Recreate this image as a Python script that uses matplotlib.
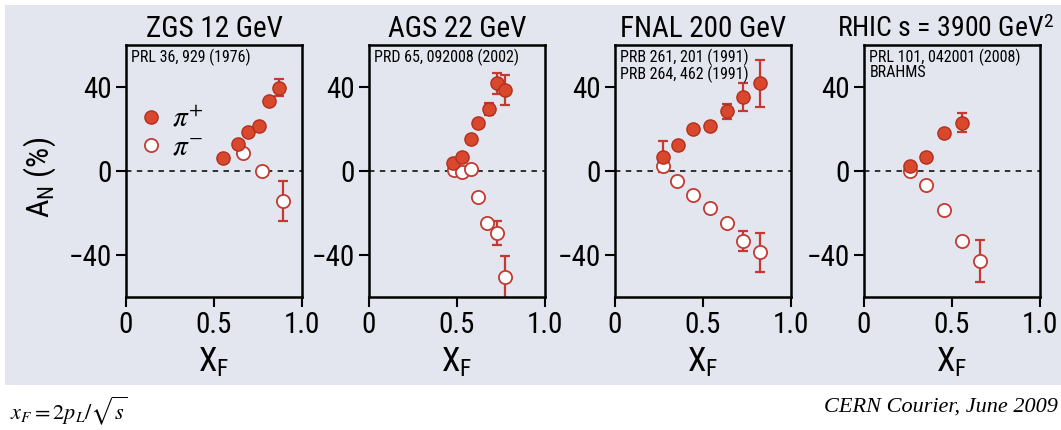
import matplotlib
matplotlib.use('Agg')
import matplotlib.pyplot as plt
import numpy as np
from matplotlib.patches import Rectangle

# condensed sans first, plain Liberation Sans if none of them is there
sans = ['Roboto Condensed', 'Archivo Narrow', 'PT Sans Narrow', 'Fira Sans Condensed',
        'Liberation Sans', 'DejaVu Sans']
plt.rcParams['font.family'] = sans
plt.rcParams['mathtext.fontset'] = 'custom'
plt.rcParams['mathtext.rm'] = 'Roboto Condensed'
plt.rcParams['mathtext.it'] = 'Liberation Serif:italic'

titles = ['ZGS 12 GeV', 'AGS 22 GeV', 'FNAL 200 GeV', r'RHIC s = 3900 GeV$^{\mathrm{2}}$']
refs = ['PRL 36, 929 (1976)', 'PRD 65, 092008 (2002)',
        'PRB 261, 201 (1991)\nPRB 264, 462 (1991)', 'PRL 101, 042001 (2008)\nBRAHMS']

# ZGS 12 GeV
zgs_pip_x = [0.55, 0.635, 0.695, 0.755, 0.815, 0.87]
zgs_pip_y = [6.4, 12.9, 18.6, 21.6, 33.3, 39.7]
zgs_pip_e = [0, 0, 0, 0, 0, 4.1]
zgs_pim_x = [0.665, 0.775, 0.89]
zgs_pim_y = [8.4, 0.0, -14.3]
zgs_pim_e = [0, 0, 9.6]

# AGS 22 GeV
ags_pip_x = [0.48, 0.53, 0.58, 0.62, 0.68, 0.725, 0.775]
ags_pip_y = [3.7, 6.8, 15.1, 23.0, 29.5, 41.8, 38.6]
ags_pip_e = [0, 0, 0, 0, 2.8, 4.9, 7.3]
ags_pim_x = [0.485, 0.53, 0.58, 0.62, 0.67, 0.725, 0.775]
ags_pim_y = [0.5, -0.6, 0.8, -12.2, -24.9, -29.4, -50.6]
ags_pim_e = [0, 0, 0, 0, 0, 5.8, 10.2]

# FNAL 200 GeV
fnal_pip_x = [0.275, 0.36, 0.445, 0.54, 0.635, 0.725, 0.825]
fnal_pip_y = [6.9, 12.2, 20.0, 21.6, 28.5, 35.1, 41.8]
fnal_pip_e = [7.4, 0, 0, 0, 3.5, 6.7, 11.2]
fnal_pim_x = [0.275, 0.355, 0.445, 0.54, 0.635, 0.73, 0.825]
fnal_pim_y = [2.2, -4.7, -11.4, -17.5, -24.7, -33.5, -38.8]
fnal_pim_e = [0, 0, 0, 0, 0, 4.8, 9.1]

# RHIC
rhic_pip_x = [0.26, 0.355, 0.455, 0.555]
rhic_pip_y = [2.6, 6.8, 18.0, 23.0]
rhic_pip_e = [0, 0, 0, 4.5]
rhic_pim_x = [0.26, 0.355, 0.455, 0.555, 0.66]
rhic_pim_y = [0.0, -6.5, -18.5, -33.4, -43.0]
rhic_pim_e = [0, 0, 0, 0, 10.0]

panels = [
    (zgs_pip_x, zgs_pip_y, zgs_pip_e, zgs_pim_x, zgs_pim_y, zgs_pim_e),
    (ags_pip_x, ags_pip_y, ags_pip_e, ags_pim_x, ags_pim_y, ags_pim_e),
    (fnal_pip_x, fnal_pip_y, fnal_pip_e, fnal_pim_x, fnal_pim_y, fnal_pim_e),
    (rhic_pip_x, rhic_pip_y, rhic_pip_e, rhic_pim_x, rhic_pim_y, rhic_pim_e),
]

W, H = 1061, 430
bg = '#e3e6ee'
red = '#d9472d'
redline = '#c43a33'

fig = plt.figure(figsize=(W / 100, H / 100), dpi=100)
fig.patches.append(Rectangle((5 / W, (H - 385) / H), 1056 / W, 380 / H,
                             transform=fig.transFigure, facecolor=bg, edgecolor='none', zorder=-10))

lefts = [126, 369, 615, 864]
title_x = [0.5, 0.5, 0.5, 0.46]
title_size = [21, 21, 21, 20]


def draw_err(ax, x, y, e):
    x, y, e = np.array(x), np.array(y), np.array(e)
    m = e > 0
    if m.any():
        ax.errorbar(x[m], y[m], yerr=e[m], fmt='none', ecolor=redline,
                    elinewidth=1.6, capsize=3.5, capthick=1.6, zorder=2)


for i, (px, py, pe, mx, my, me) in enumerate(panels):
    ax = fig.add_axes([lefts[i] / W, 133 / H, 176 / W, 252 / H])
    ax.set_facecolor(bg)
    ax.set_xlim(0, 1.0)
    ax.set_ylim(-60, 60)
    ax.axhline(0, color='#222222', ls=(0, (3, 3)), lw=1.3, zorder=1)

    draw_err(ax, px, py, pe)
    draw_err(ax, mx, my, me)
    hp, = ax.plot(px, py, 'o', ms=9.5, mfc=red, mec='#b03020', mew=1.0, ls='none', zorder=4)
    hm, = ax.plot(mx, my, 'o', ms=9.5, mfc='white', mec=redline, mew=1.3, ls='none', zorder=3)

    ax.set_xticks([0, 0.5, 1.0])
    ax.set_xticklabels(['0', '0.5', '1.0'])
    ax.set_yticks([-40, 0, 40])
    ax.set_yticklabels(['\u221240', '0', '40'])
    ax.tick_params(direction='out', length=7, width=1.5, labelsize=21, pad=3)
    for s in ax.spines.values():
        s.set_linewidth(1.8)
    ax.set_xlabel(r'$\mathrm{X_F}$', fontsize=24, labelpad=5)
    ax.set_title(titles[i], fontsize=title_size[i], pad=6, x=title_x[i])
    ax.text(0.03, 0.985, refs[i], transform=ax.transAxes, va='top', ha='left',
            fontsize=11.5, linespacing=0.95)

    if i == 0:
        ax.legend([hp, hm], [r'$\pi^{+}$', r'$\pi^{-}$'], loc='center left',
                  bbox_to_anchor=(0.057, 0.65), frameon=False,
                  handlelength=1.0, handletextpad=0.25, labelspacing=0.0,
                  borderpad=0, borderaxespad=0,
                  prop={'size': 21, 'math_fontfamily': 'stix'})

fig.text(40 / W, (H - 177) / H, r'$\mathrm{A_N}$ (%)', rotation=90, fontsize=23,
         ha='center', va='center')

fig.text(10 / W, (H - 411) / H, r'$x_F = 2p_L/\sqrt{s}$', fontsize=16,
         ha='left', va='center', math_fontfamily='stix')
fig.text(1058 / W, (H - 407) / H, 'CERN Courier, June 2009', fontsize=16,
         family='Liberation Serif', style='italic', ha='right', va='center')

fig.savefig('out.png', dpi=100)
